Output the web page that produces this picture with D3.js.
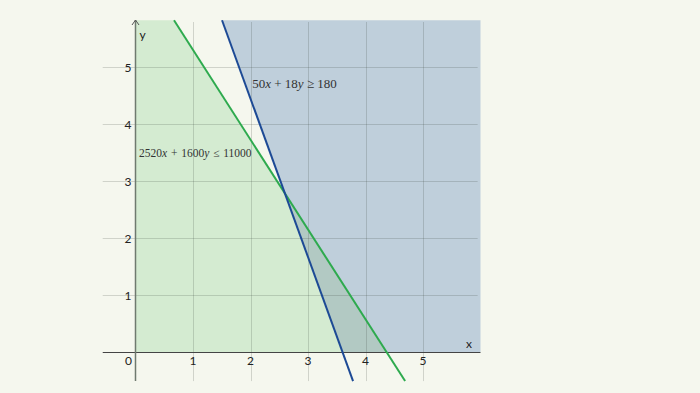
<!DOCTYPE html>
<html>
<head>
<meta charset="utf-8">
<script src="https://cdn.jsdelivr.net/npm/d3@7"></script>
<style>
  html, body { margin: 0; padding: 0; background: #f5f7ee; }
  svg { display: block; }
</style>
</head>
<body>
<svg id="chart" width="700" height="393"></svg>
<script>
// ---- data ----
const xTicks = [1, 2, 3, 4, 5];
const yTicks = [1, 2, 3, 4, 5];
// constraint a*x + b*y (op) c
const greenCoef = [2520, 1600, 11000];   // <=
const blueCoef  = [50, 18, 180];         // >=
const greenLabel = ["2520", "x", "\u2004+\u20041600", "y", "\u2004≤\u200411000"];
const blueLabel  = ["50", "x", " + 18", "y", " ≥ 180"];
const xDomain = [-0.57, 6.0];
const yDomain = [-0.51, 5.82];

// ---- scales ----
const x = d3.scaleLinear().domain([0, 1]).range([135.5, 193]);
const y = d3.scaleLinear().domain([0, 1]).range([352, 295]);

const svg = d3.select("#chart");

// half-plane clip (Sutherland–Hodgman), keep sign*(a*x+b*y-c) <= 0
function clip(poly, a, b, c, sign) {
  const f = p => sign * (a * p[0] + b * p[1] - c);
  const out = [];
  for (let i = 0; i < poly.length; i++) {
    const P = poly[i], Q = poly[(i + 1) % poly.length];
    const fp = f(P), fq = f(Q);
    if (fp <= 0) out.push(P);
    if ((fp < 0 && fq > 0) || (fp > 0 && fq < 0)) {
      const t = fp / (fp - fq);
      out.push([P[0] + t * (Q[0] - P[0]), P[1] + t * (Q[1] - P[1])]);
    }
  }
  return out;
}
const quadrant = [[0, 0], [xDomain[1], 0], [xDomain[1], yDomain[1]], [0, yDomain[1]]];
const greenPoly = clip(quadrant, greenCoef[0], greenCoef[1], greenCoef[2], 1);
const bluePoly  = clip(quadrant, blueCoef[0], blueCoef[1], blueCoef[2], -1);
const overlapPoly = clip(greenPoly, blueCoef[0], blueCoef[1], blueCoef[2], -1);

const line = d3.line().x(d => x(d[0])).y(d => y(d[1]));

svg.append("path").attr("d", line(greenPoly) + "Z").attr("fill", "#d4ebd1");
svg.append("path").attr("d", line(bluePoly) + "Z").attr("fill", "#bfcfdb");
svg.append("path").attr("d", line(overlapPoly) + "Z").attr("fill", "#b2c9c3");

// grid
const grid = svg.append("g").attr("stroke", "rgba(60,70,60,0.2)").attr("stroke-width", 1);
grid.selectAll("line.v").data(xTicks).join("line")
  .attr("x1", d => Math.round(x(d)) + 0.5).attr("x2", d => Math.round(x(d)) + 0.5)
  .attr("y1", 22).attr("y2", y(yDomain[0]));
grid.selectAll("line.h").data(yTicks).join("line")
  .attr("y1", d => Math.round(y(d)) + 0.5).attr("y2", d => Math.round(y(d)) + 0.5)
  .attr("x1", x(xDomain[0])).attr("x2", x(5.95));

// axes
svg.append("line").attr("x1", x(xDomain[0])).attr("x2", x(xDomain[1]))
  .attr("y1", y(0) + 0.5).attr("y2", y(0) + 0.5).attr("stroke", "#444").attr("stroke-width", 1.2);
svg.append("line").attr("x1", x(0)).attr("x2", x(0))
  .attr("y1", 20).attr("y2", y(yDomain[0])).attr("stroke", "#6f7a6f").attr("stroke-width", 1.5);
svg.append("path").attr("d", `M${x(0) - 3.5},${25} L${x(0)},${20} L${x(0) + 3.5},${25}`)
  .attr("fill", "none").attr("stroke", "#555").attr("stroke-width", 1);

// constraint lines
function seg(coef) {
  const [a, b, c] = coef;
  const xt = (c - b * yDomain[1]) / a, xb = (c - b * yDomain[0]) / a;
  return [[xt, yDomain[1]], [xb, yDomain[0]]];
}
svg.append("path").attr("d", line(seg(greenCoef))).attr("stroke", "#2eaa4e").attr("stroke-width", 2).attr("fill", "none");
svg.append("path").attr("d", line(seg(blueCoef))).attr("stroke", "#1d4a95").attr("stroke-width", 2).attr("fill", "none");

// tick labels
const tickFont = "Lato, 'Open Sans', sans-serif";
svg.selectAll("text.xt").data([0].concat(xTicks)).join("text")
  .attr("x", d => d === 0 ? x(0) - 7 : x(d)).attr("y", y(0) + 12.5)
  .attr("text-anchor", "middle").attr("font-family", tickFont).attr("font-size", 12)
  .attr("fill", "#222").text(d => d);
svg.selectAll("text.yt").data(yTicks).join("text")
  .attr("x", x(0) - 7.5).attr("y", d => y(d) + 4.5)
  .attr("text-anchor", "middle").attr("font-family", tickFont).attr("font-size", 12)
  .attr("fill", "#222").text(d => d);
svg.append("text").attr("x", x(0) + 7).attr("y", 39).attr("text-anchor", "middle")
  .attr("font-family", tickFont).attr("font-size", 12).attr("fill", "#222").text("y");
svg.append("text").attr("x", x(5.8)).attr("y", y(0) - 4).attr("text-anchor", "middle")
  .attr("font-family", tickFont).attr("font-size", 12).attr("fill", "#222").text("x");

// constraint labels
function mathLabel(parts, px, py, size) {
  const t = svg.append("text").attr("x", px).attr("y", py)
    .attr("font-family", "'Liberation Serif', 'DejaVu Serif', serif").attr("font-size", size)
    .attr("fill", "#333").attr("xml:space", "preserve");
  parts.forEach((p, i) => t.append("tspan").attr("font-style", i % 2 ? "italic" : "normal").text(p));
}
mathLabel(greenLabel, x(0.06), y(3.42), 11.5);
mathLabel(blueLabel, x(2.03), y(4.63), 13);
</script>
</body>
</html>
